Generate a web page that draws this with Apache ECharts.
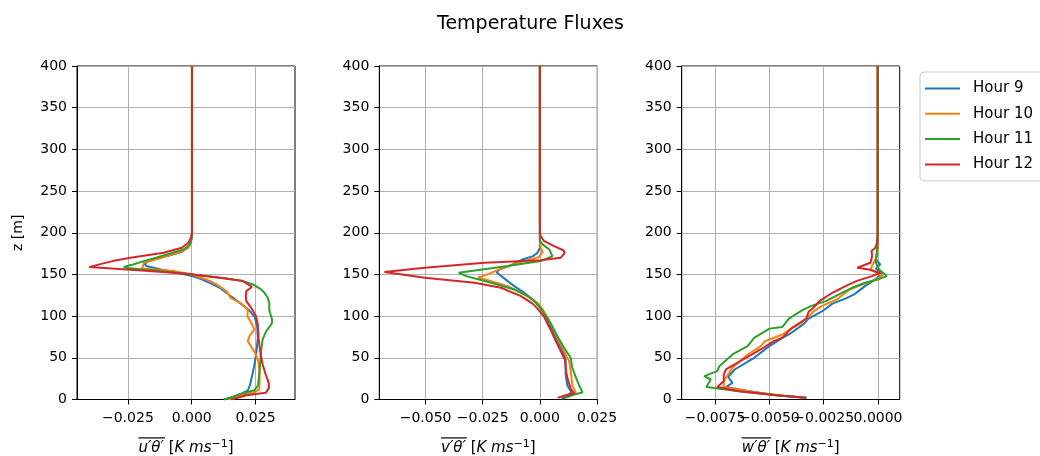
<!DOCTYPE html>
<html>
<head>
<meta charset="utf-8">
<script src="https://cdn.jsdelivr.net/npm/echarts@6/dist/echarts.min.js"></script>
<style>html,body{margin:0;padding:0;background:#fff}#c{width:1040px;height:456px}</style>
</head>
<body>
<div id="c"></div>
<script>
// ---- data: [flux, z] pairs ----
const seriesNames = ['Hour 9', 'Hour 10', 'Hour 11', 'Hour 12'];
const colors = ['#1f77b4', '#ff7f0e', '#2ca02c', '#d62728'];

// panel 1: u'theta'
const uH9 = [[0.0125,0],[0.016,3],[0.0195,7],[0.022,11],[0.0228,17],[0.0238,30],[0.0246,42],[0.0254,58],[0.0259,74],[0.0257,87],[0.0247,99],[0.0225,107],[0.0192,115],[0.0162,122],[0.0135,128],[0.011,134],[0.0071,140],[0.0032,145],[0,148],[-0.0058,152],[-0.012,156],[-0.0178,160],[-0.0185,163],[-0.0168,166],[-0.011,171],[-0.004,177],[-0.0012,183],[-0.0003,190],[0.0001,198],[0.0001,250],[0.0001,300],[0.0001,350],[0.0001,400]];
const uH10 = [[0.0142,0],[0.0165,2],[0.0188,5],[0.024,8],[0.0264,12],[0.0266,18],[0.0266,34],[0.0261,46],[0.0248,56],[0.0232,64],[0.022,70],[0.0228,77],[0.0246,84],[0.0235,91],[0.0218,100],[0.022,107],[0.021,111],[0.019,116],[0.0152,122],[0.0136,130],[0.0097,138],[0.0058,144],[0,150],[-0.0071,154],[-0.0194,157],[-0.0201,159],[-0.0188,164],[-0.011,171],[-0.0045,177],[-0.0013,182],[-0.0004,188],[0.0001,196],[0.0001,300],[0.0001,400]];
const uH11 = [[0.0128,0],[0.015,2],[0.0185,6],[0.0245,11],[0.026,17],[0.0266,34],[0.0272,58],[0.0278,72],[0.0292,82],[0.0314,91],[0.0315,96],[0.0304,107],[0.0304,115],[0.0298,122],[0.0285,128],[0.0272,132],[0.024,138],[0.0201,142],[0.0136,145],[0,150],[-0.0123,154],[-0.0253,157.6],[-0.0266,159],[-0.023,162],[-0.0188,166],[-0.014,170],[-0.0097,174],[-0.0032,180],[-0.0006,186],[0.0001,194],[0.0001,300],[0.0001,400]];
const uH12 = [[0.0155,0],[0.018,2],[0.0215,5],[0.029,8],[0.0303,14],[0.0302,20],[0.029,30],[0.0278,42],[0.0268,58],[0.0262,74],[0.0259,90],[0.0252,100],[0.0233,110],[0.0214,118],[0.0212,124],[0.0214,130],[0.0236,135],[0.0201,142],[0.011,146],[-0.0019,150.8],[-0.021,155],[-0.0402,158.8],[-0.035,163],[-0.031,166],[-0.024,170],[-0.011,176],[-0.0039,182],[-0.0013,188],[-0.0003,194],[0.0001,200],[0.0001,300],[0.0001,400]];

// panel 2: v'theta'
const vH9 = [[0.0095,1],[0.0125,5],[0.0137,9],[0.012,17],[0.0113,30],[0.0113,48],[0.0099,58],[0.0077,70],[0.0055,83],[0.0033,95],[0.0012,107],[-0.0025,118],[-0.0068,128],[-0.0112,136],[-0.0141,142],[-0.0177,150],[-0.019,153],[-0.0175,156],[-0.0135,160],[-0.0105,164],[-0.0075,168],[-0.003,172],[-0.001,176],[0,182],[0,300],[0,400]];
const vH10 = [[0.0113,2],[0.0135,5],[0.0157,8.5],[0.0142,17],[0.0135,34],[0.0128,46],[0.0106,58],[0.0084,70],[0.0062,83],[0.0033,99],[0.0012,108],[-0.001,116],[-0.0068,126],[-0.0141,136],[-0.0228,143],[-0.0271,146],[-0.022,151],[-0.017,157],[-0.0083,165],[-0.0003,171],[0.0012,177],[0.0003,183],[0,190],[0,300],[0,400]];
const vH11 = [[0.01,1],[0.015,6],[0.0186,8.5],[0.0164,22],[0.0142,38],[0.0135,50],[0.0106,62],[0.0077,76],[0.0048,91],[0.0019,103],[-0.0003,112],[-0.0039,122],[-0.0112,132],[-0.0213,140],[-0.0322,148],[-0.0355,152],[-0.0141,160],[0.0004,166],[0.0055,172],[0.0041,180],[0.0012,186],[0.0001,190],[0,300],[0,400]];
const vH12 = [[0.0077,2],[0.0113,5],[0.015,7.5],[0.0135,13],[0.012,26],[0.0113,38],[0.0109,48],[0.0091,58],[0.007,70],[0.0048,83],[0.0033,91],[0.0019,99],[-0.001,109],[-0.0032,115],[-0.0083,124],[-0.017,134],[-0.0286,140],[-0.0503,146],[-0.068,153],[-0.0503,158],[-0.0242,164],[0.0004,167],[0.0091,170],[0.0109,176],[0.0103,179],[0.0062,184],[0.0019,190],[0.0003,196],[0,200],[0,300],[0,400]];

// panel 3: w'theta'
const wH9 = [[-0.0033,2],[-0.0047,5],[-0.0059,10],[-0.007,15],[-0.0067,20],[-0.0069,27],[-0.0066,36],[-0.0057,50],[-0.005,64],[-0.0044,74],[-0.0041,78],[-0.0034,91],[-0.0032,97],[-0.0025,107],[-0.0021,115],[-0.0015,121],[-0.0011,126],[-0.0009,130],[-0.0006,136],[-0.0003,141],[-0.00005,146],[0.0002,152],[-0.0001,157],[0.0001,162],[-0.0001,168],[-0.00005,176],[0,190],[0,300],[0,400]];
const wH10 = [[-0.0035,2],[-0.0056,8.5],[-0.0071,15],[-0.0071,22],[-0.0069,30],[-0.0067,38],[-0.006,54],[-0.0054,64],[-0.0052,70],[-0.0044,78],[-0.004,85],[-0.0036,91],[-0.0033,97],[-0.0029,107],[-0.0026,112],[-0.0019,120],[-0.0015,128],[-0.0013,132],[-0.0009,136],[-0.0003,142],[0.0002,148],[-0.00035,156],[-0.0002,164],[-0.00005,172],[0,190],[0,300],[0,400]];
const wH11 = [[-0.0033,2],[-0.0044,4.5],[-0.0064,10],[-0.0079,15],[-0.0077,24],[-0.008,28],[-0.0074,34],[-0.0073,40],[-0.0067,54],[-0.006,64],[-0.0057,74],[-0.005,85],[-0.0044,87],[-0.0041,97],[-0.0035,107],[-0.0031,112],[-0.0024,118],[-0.0018,126],[-0.0012,134],[-0.0006,140],[0,144],[0.0004,148],[0.00005,156],[-0.0001,164],[-0.00005,178],[0,190],[0,300],[0,400]];
const wH12 = [[-0.0033,2],[-0.0047,5],[-0.0064,10],[-0.0074,15],[-0.0071,22],[-0.0071,30],[-0.007,36],[-0.0062,48],[-0.0054,60],[-0.0048,70],[-0.0044,74],[-0.004,85],[-0.0033,97],[-0.0032,105],[-0.0029,112],[-0.0027,118],[-0.0021,128],[-0.0015,136],[-0.001,142],[-0.00027,148],[0.0001,152],[-0.00043,156],[-0.00096,158],[-0.00035,164],[-0.00027,172],[-0.0003,178],[-0.00012,182],[-0.00005,188],[-0.00003,200],[-0.00003,300],[-0.00003,400]];

// tick values (each panel's labels split in two non-overlapping sets)
const uTicks = [-0.025, 0, 0.025];
const vTicks = [-0.05, -0.025, 0, 0.025];
const wTicks = [-0.0075, -0.005, -0.0025, 0];

const panels = [
  {data: [uH9, uH10, uH11, uH12], ticks: uTicks, dec: 3, min: -0.04494, max: 0.04048, left: 77, sym: 'u'},
  {data: [vH9, vH10, vH11, vH12], ticks: vTicks, dec: 3, min: -0.07024, max: 0.02513, left: 379.3, sym: 'v'},
  {data: [wH9, wH10, wH11, wH12], ticks: wTicks, dec: 4, min: -0.009035, max: 0.000997, left: 681.7, sym: 'w'}
];

const FONT = 'DejaVu Sans';
const NF = 15, SF = 11;
const mctx = document.createElement('canvas').getContext('2d');
function measure(t, font) { mctx.font = font; return mctx.measureText(t).width; }

function fmt(dec) {
  return function (v) {
    const s = Math.abs(v).toFixed(dec);
    return v < -1e-12 ? '\u2212' + s : s;
  };
}
function axisName(sym) {
  const s1 = sym + '\u2032\u03b8\u2032';
  const w1 = measure(s1, 'italic ' + NF + 'px "' + FONT + '"');
  const w2 = measure(' [', NF + 'px "' + FONT + '"');
  const w3 = measure('K ms', 'italic ' + NF + 'px "' + FONT + '"');
  const w4 = measure('\u22121', SF + 'px "' + FONT + '"');
  const w5 = measure(']', NF + 'px "' + FONT + '"');
  const W = w1 + w2 + w3 + w4 + w5;
  return {
    text: '{ol|}{sp|}\n{o|' + s1 + '}{n| [}{i|K ms}{s|\u22121}{n|]}',
    rich: {
      ol: {width: w1 + 1, height: 1.2, backgroundColor: '#000', lineHeight: 2},
      sp: {width: Math.max(1, W - w1 - 1), height: 1.2, lineHeight: 2},
      o: {fontSize: NF, fontStyle: 'italic', fontFamily: FONT, color: '#000', lineHeight: 18},
      n: {fontSize: NF, fontFamily: FONT, color: '#000', lineHeight: 18},
      i: {fontSize: NF, fontStyle: 'italic', fontFamily: FONT, color: '#000', lineHeight: 18},
      s: {fontSize: SF, fontFamily: FONT, color: '#000', verticalAlign: 'top', lineHeight: 12}
    }
  };
}

const grids = [], xAxes = [], yAxes = [], series = [];
const labelBase = {fontSize: 14, color: '#000', fontFamily: FONT, margin: 12, hideOverlap: false, showMinLabel: true, showMaxLabel: true};
panels.forEach((p, i) => {
  const nm = axisName(p.sym);
  const setA = p.ticks.filter((_, k) => k % 2 === 0);
  const setB = p.ticks.filter((_, k) => k % 2 === 1);
  grids.push({left: p.left, top: 66, width: 218, height: 333.5, show: true, borderColor: '#000', borderWidth: 1, backgroundColor: 'transparent', outerBoundsMode: 'none', containLabel: false});
  // main x axis: line, ticks, grid, name, first label set
  xAxes.push({
    type: 'value', gridIndex: i, min: p.min, max: p.max, position: 'bottom',
    axisLine: {show: true, onZero: false, lineStyle: {color: '#000', width: 1}},
    axisTick: {show: true, length: 5, customValues: p.ticks, lineStyle: {color: '#000', width: 1}},
    axisLabel: Object.assign({customValues: setA, formatter: fmt(p.dec)}, labelBase),
    splitLine: {show: true, lineStyle: {color: '#b0b0b0', width: 1}},
    name: nm.text,
    nameLocation: 'middle', nameGap: 28,
    nameTextStyle: {fontSize: NF, color: '#000', fontFamily: FONT, rich: nm.rich}
  });
  // companion x axis: only the other label set
  xAxes.push({
    type: 'value', gridIndex: i, min: p.min, max: p.max, position: 'bottom', offset: 0,
    axisLine: {show: false, onZero: false},
    axisTick: {show: false, customValues: setB},
    axisLabel: Object.assign({customValues: setB, formatter: fmt(p.dec)}, labelBase),
    splitLine: {show: false}
  });
  yAxes.push({
    type: 'value', gridIndex: i, min: 0, max: 400, interval: 50,
    axisLine: {show: true, onZero: false, lineStyle: {color: '#000', width: 1}},
    axisTick: {show: true, length: 5, lineStyle: {color: '#000', width: 1}},
    axisLabel: {fontSize: 14, color: '#000', fontFamily: FONT, margin: 10},
    splitLine: {show: true, lineStyle: {color: '#b0b0b0', width: 1}},
    name: i === 0 ? 'z [m]' : '', nameLocation: 'middle', nameGap: 52,
    nameTextStyle: {fontSize: 14, color: '#000', fontFamily: FONT}
  });
  p.data.forEach((d, k) => {
    series.push({
      type: 'line', name: seriesNames[k], xAxisIndex: 2 * i, yAxisIndex: i,
      data: d, symbol: 'none', showSymbol: false, clip: true,
      lineStyle: {color: colors[k], width: 2}, itemStyle: {color: colors[k]},
      z: 2 + k
    });
  });
});

const chart = echarts.init(document.getElementById('c'), null, {renderer: 'canvas'});
chart.setOption({
  animation: false,
  backgroundColor: '#fff',
  title: {text: 'Temperature Fluxes', left: 432, top: 10, textStyle: {fontSize: 19, fontWeight: 'normal', color: '#000', fontFamily: FONT}},
  legend: {
    data: seriesNames, orient: 'vertical', left: 920, top: 72,
    padding: [9, 80, 9, 5], itemGap: 10.3, itemWidth: 35, itemHeight: 14,
    icon: 'path://M0,0H35V2H0Z',
    backgroundColor: '#fff', borderColor: '#cccccc', borderWidth: 1, borderRadius: 4,
    textStyle: {fontSize: 15, color: '#000', fontFamily: FONT, padding: [0, 0, 0, 8]}
  },
  grid: grids, xAxis: xAxes, yAxis: yAxes, series: series
});
</script>
</body>
</html>
